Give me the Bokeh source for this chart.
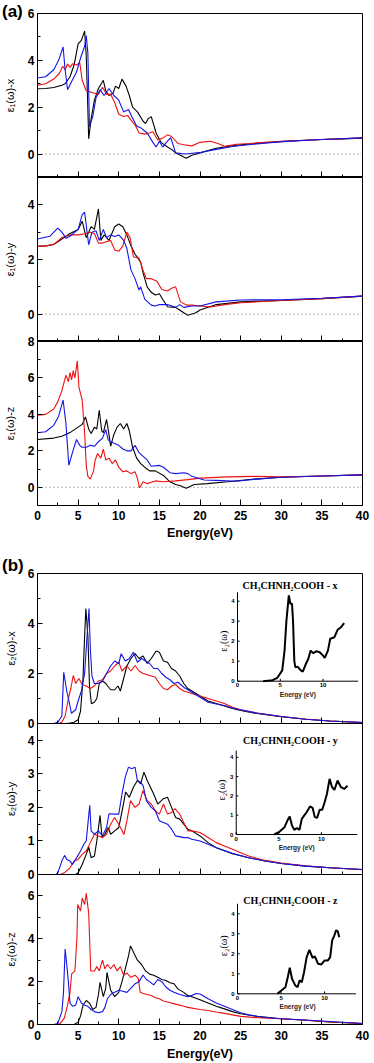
import math
from bokeh.plotting import figure
from bokeh.layouts import column
from bokeh.models import Range1d, FixedTicker, Span, Div, LinearAxis
from bokeh.embed import file_html
from bokeh.resources import INLINE
from bokeh.core.properties import value

# ---------------- data: (energy in eV, value) ----------------
# panel (a): epsilon_1
A_X_BLACK = [(0, 2.79), (1, 2.8), (2, 2.84), (3, 2.94), (3.4, 3.0), (4.0, 3.3), (4.5, 3.8), (5.0, 4.7),
             (5.4, 4.85), (5.8, 5.25), (6.0, 4.2), (6.15, 2.5), (6.3, 0.65), (6.6, 1.5), (7.0, 2.3), (7.5, 2.8),
             (8.1, 3.15), (8.4, 2.7), (8.8, 2.5), (9.3, 2.6), (9.6, 2.9), (10.0, 2.8), (10.4, 3.2), (10.9, 2.9),
             (11.3, 2.5), (11.7, 2.0), (12.3, 1.8), (13.0, 1.4), (13.3, 1.3), (13.6, 1.5), (14.0, 1.6), (14.6, 0.9),
             (15.2, 0.5), (16.0, 0.3), (16.5, 0.2), (17.0, 0.05), (17.6, -0.05), (18.3, -0.18), (19.0, -0.05),
             (20.0, 0.05), (21.0, 0.15), (22.0, 0.25), (23.5, 0.33), (25.0, 0.4), (27.5, 0.47), (30.0, 0.53),
             (32.5, 0.58), (35.0, 0.62), (37.5, 0.65), (40.0, 0.68)]
A_X_RED = [(0, 2.94), (1, 3.0), (2, 3.2), (2.7, 3.45), (3.1, 3.75), (3.4, 3.6), (3.7, 3.85), (4.0, 3.7),
           (4.3, 3.85), (4.8, 3.8), (5.2, 3.9), (5.5, 3.15), (6.0, 2.7), (6.5, 2.65), (7.0, 2.6), (7.5, 2.55),
           (8.0, 2.85), (8.5, 2.55), (9.0, 2.55), (9.5, 2.2), (10.0, 1.7), (10.6, 1.6), (11.1, 1.65), (11.5, 1.45),
           (12.0, 1.25), (12.5, 0.9), (13.2, 0.85), (13.8, 0.9), (14.2, 0.95), (14.8, 0.6), (15.5, 0.7),
           (16.0, 0.82), (16.5, 0.75), (17.3, 0.45), (18.0, 0.4), (19.0, 0.35), (20.0, 0.5), (21.3, 0.55),
           (22.2, 0.45), (23.0, 0.33), (24.5, 0.42), (26.0, 0.45), (28.0, 0.5), (30.0, 0.55), (35.0, 0.62),
           (40.0, 0.69)]
A_X_BLUE = [(0, 3.25), (1, 3.3), (2, 3.6), (2.6, 4.0), (3.15, 4.57), (3.4, 3.6), (3.7, 2.75), (4.2, 3.1),
            (4.8, 3.5), (5.3, 4.1), (5.8, 4.6), (6.0, 5.06), (6.2, 4.3), (6.4, 1.16), (6.8, 1.6), (7.2, 2.4),
            (7.7, 2.75), (8.2, 2.5), (8.8, 2.8), (9.4, 2.5), (10.0, 2.3), (10.6, 1.8), (11.2, 1.9), (11.6, 1.6),
            (12.2, 1.2), (12.8, 1.1), (13.5, 0.9), (14.2, 0.5), (14.6, 0.3), (15.0, 0.55), (15.4, 0.3),
            (16.0, 0.55), (16.4, 0.7), (17.0, 0.05), (18.2, 0.0), (19.9, 0.06), (22.0, 0.2), (24.0, 0.32),
            (26.0, 0.4), (30.0, 0.53), (35.0, 0.62), (40.0, 0.69)]

A_Y_BLACK = [(0, 2.48), (1, 2.5), (2, 2.55), (3, 2.75), (4, 2.95), (5.0, 3.1), (5.5, 3.4), (6.0, 2.8),
             (6.6, 3.2), (7.0, 3.1), (7.5, 3.85), (7.8, 2.7), (8.2, 2.9), (8.8, 2.7), (9.5, 3.2), (10.0, 3.3),
             (10.5, 3.2), (11.0, 2.9), (11.5, 2.5), (12.0, 2.2), (12.7, 1.9), (13.0, 1.5), (13.5, 1.0),
             (14.0, 0.8), (14.5, 0.7), (15.0, 0.75), (15.5, 0.5), (16.0, 0.27), (17.0, 0.25), (17.5, 0.15),
             (18.0, 0.05), (18.5, -0.04), (19.5, 0.05), (20.0, 0.15), (21.0, 0.25), (22.0, 0.35), (25.0, 0.45),
             (30.0, 0.5), (35.0, 0.57), (40.0, 0.66)]
A_Y_RED = [(0, 2.48), (1, 2.5), (2, 2.55), (3, 2.8), (4, 2.9), (5, 2.9), (6, 2.95), (6.5, 3.0), (7.0, 2.95),
           (7.5, 2.6), (8.0, 2.6), (9.0, 2.7), (9.5, 2.35), (10.0, 2.3), (10.5, 2.5), (11.0, 3.0), (11.4, 2.8),
           (11.8, 2.1), (12.5, 2.05), (13.0, 1.6), (13.4, 1.3), (14.0, 1.3), (14.7, 1.2), (15.3, 0.9),
           (16.0, 0.85), (16.5, 0.95), (17.0, 1.0), (17.6, 0.45), (18.4, 0.33), (19.0, 0.33), (21.3, 0.26),
           (23.0, 0.35), (25.0, 0.42), (30.0, 0.5), (35.0, 0.57), (40.0, 0.66)]
A_Y_BLUE = [(0, 2.75), (1.5, 2.85), (2.5, 3.15), (3.0, 3.0), (3.5, 2.78), (4.0, 2.85), (5.0, 3.1), (5.5, 3.64),
            (5.8, 3.73), (6.3, 2.54), (6.7, 3.0), (7.2, 3.05), (7.6, 2.7), (8.1, 3.1), (8.5, 2.8), (9.0, 2.9),
            (9.5, 2.84), (10.0, 2.9), (10.6, 2.7), (11.0, 2.4), (11.5, 1.62), (12.0, 1.3), (12.5, 0.88),
            (12.7, 1.0), (13.2, 0.55), (14.0, 0.33), (14.5, 0.3), (15.0, 0.35), (16.0, 0.35), (17.0, 0.25),
            (17.5, 0.35), (18.0, 0.25), (19.0, 0.3), (20.0, 0.3), (22.0, 0.45), (25.0, 0.52), (30.0, 0.53),
            (35.0, 0.58), (40.0, 0.66)]

A_Z_BLACK = [(0, 2.62), (2, 2.7), (3, 2.8), (4, 3.0), (5, 3.3), (5.5, 3.45), (5.9, 3.86), (6.3, 3.2),
             (6.6, 2.95), (7.0, 3.3), (7.3, 3.2), (7.6, 4.23), (7.9, 3.1), (8.1, 3.0), (8.5, 3.72), (8.8, 2.9),
             (9.0, 2.25), (9.4, 2.9), (9.8, 3.3), (10.2, 3.5), (10.6, 3.2), (11.0, 3.5), (11.3, 3.1), (11.7, 2.2),
             (12.2, 1.6), (12.7, 1.3), (13.3, 1.06), (13.8, 0.9), (14.5, 0.9), (15.5, 0.65), (16.3, 0.3),
             (17.0, 0.15), (17.5, 0.1), (18.3, -0.05), (19.3, 0.15), (20.9, 0.2), (23.4, 0.3), (26.7, 0.45),
             (30.0, 0.55), (35.0, 0.62), (40.0, 0.68)]
A_Z_RED = [(0, 3.96), (1, 4.0), (2, 4.3), (2.5, 4.7), (3.0, 5.3), (3.5, 6.15), (3.8, 5.8), (4.0, 6.3), (4.2, 5.9),
           (4.4, 6.4), (4.6, 6.0), (4.9, 6.94), (5.1, 5.5), (5.5, 4.78), (5.8, 3.0), (6.0, 1.2), (6.2, 0.6),
           (6.5, 0.45), (6.9, 0.9), (7.1, 1.5), (7.4, 1.85), (7.8, 1.6), (8.1, 2.1), (8.4, 1.5), (8.8, 1.6),
           (9.2, 1.3), (9.6, 1.5), (10.0, 1.1), (10.5, 0.85), (11.0, 0.9), (11.5, 0.75), (12.0, 0.85), (12.3, 0.5),
           (12.55, -0.04), (13.0, 0.3), (13.5, 0.2), (14.5, 0.35), (15.5, 0.3), (17.0, 0.35), (18.5, 0.42),
           (20.0, 0.5), (23.4, 0.57), (26.7, 0.6), (30.3, 0.57), (35.0, 0.62), (40.0, 0.68)]
A_Z_BLUE = [(0, 2.99), (1, 3.05), (2, 3.4), (2.6, 3.9), (3.15, 4.78), (3.5, 3.5), (3.85, 1.21), (4.3, 1.9),
            (4.8, 2.62), (5.2, 2.3), (5.5, 2.2), (6.0, 2.2), (6.5, 2.3), (7.0, 2.25), (7.5, 2.5), (8.0, 2.7),
            (8.4, 3.17), (8.7, 2.6), (9.0, 2.5), (9.5, 2.4), (10.0, 2.3), (10.5, 2.1), (11.0, 2.0), (11.5, 2.0),
            (12.0, 2.3), (12.5, 1.9), (13.0, 1.7), (13.5, 1.5), (14.0, 1.15), (15.0, 1.2), (15.5, 1.1),
            (16.3, 0.8), (17.0, 0.75), (18.0, 0.8), (18.5, 0.75), (19.0, 0.6), (20.5, 0.4), (22.0, 0.38),
            (24.5, 0.33), (27.0, 0.45), (30.0, 0.55), (35.0, 0.62), (40.0, 0.68)]

# panel (b): epsilon_2
B_X_BLACK = [(0, 0), (3.5, 0), (4.0, 0.02), (4.5, 0.05), (5.0, 0.15), (5.3, 0.5), (5.6, 1.8), (5.8, 3.5),
             (5.95, 4.6), (6.2, 3.5), (6.4, 1.5), (6.63, 0.79), (7.0, 0.85), (7.3, 1.0), (7.6, 1.6), (8.0, 1.7),
             (8.4, 1.6), (9.0, 1.35), (9.5, 1.35), (9.9, 1.5), (10.2, 1.3), (10.6, 1.8), (11.0, 2.3), (11.5, 2.6),
             (12.0, 2.8), (12.5, 2.6), (13.0, 2.7), (13.5, 2.4), (14.0, 2.6), (14.6, 2.9), (15.0, 2.85),
             (15.5, 2.5), (16.0, 2.45), (16.5, 2.2), (17.0, 2.1), (17.5, 1.9), (18.0, 1.6), (18.5, 1.4), (19, 1.3),
             (20, 1.1), (21, 0.9), (22, 0.8), (23, 0.7), (24, 0.6), (25, 0.52), (27, 0.4), (30, 0.27),
             (33, 0.17), (36, 0.1), (40, 0.04)]
B_X_RED = [(0, 0), (2.5, 0), (3.0, 0.05), (3.4, 0.3), (3.8, 1.0), (4.1, 1.4), (4.4, 1.92), (4.7, 1.6),
           (5.1, 1.8), (5.5, 1.55), (6.0, 1.5), (6.5, 1.4), (7.0, 1.5), (7.5, 1.7), (8.0, 1.75), (8.5, 2.0),
           (9.0, 2.1), (9.5, 2.3), (10.0, 2.45), (10.4, 2.1), (11.0, 2.3), (11.5, 2.1), (12.0, 2.32), (12.5, 2.1),
           (13.0, 2.0), (13.5, 1.95), (14.0, 1.9), (14.5, 1.85), (15.0, 1.6), (15.5, 1.4), (16.0, 1.35),
           (16.5, 1.5), (17.0, 1.56), (17.5, 1.4), (18.0, 1.3), (18.5, 1.25), (19, 1.2), (20, 1.1), (21, 1.0),
           (22, 0.9), (23, 0.8), (24, 0.65), (25, 0.55), (27, 0.42), (30, 0.28), (33, 0.18), (36, 0.1),
           (40, 0.04)]
B_X_BLUE = [(0, 0), (2.0, 0), (2.5, 0.05), (3.0, 0.3), (3.23, 2.05), (3.6, 1.3), (4.0, 0.7), (4.17, 0.41),
            (4.7, 0.55), (5.0, 0.9), (5.4, 1.3), (5.8, 2.0), (6.1, 3.5), (6.34, 4.6), (6.5, 3.0), (6.7, 1.9),
            (7.0, 1.6), (7.5, 1.6), (8.0, 1.7), (8.5, 2.0), (9.0, 2.3), (9.5, 2.5), (10.0, 2.4), (10.3, 2.79),
            (10.8, 2.5), (11.3, 2.6), (11.8, 2.85), (12.3, 2.45), (12.8, 2.6), (13.3, 2.5), (13.8, 2.4),
            (14.3, 2.2), (14.8, 2.2), (15.3, 2.0), (15.8, 1.85), (16.3, 1.75), (16.8, 1.6), (17.3, 1.65),
            (18.0, 1.45), (18.5, 1.35), (19, 1.25), (20, 1.05), (21, 0.85), (22, 0.78), (23, 0.72), (24, 0.62),
            (25, 0.55), (27, 0.42), (30, 0.28), (33, 0.17), (36, 0.1), (40, 0.04)]

B_Y_BLACK = [(0, 0), (4.7, 0), (5.0, 0.05), (5.5, 0.3), (6.0, 0.6), (6.3, 0.82), (6.6, 0.5), (7.0, 0.55),
             (7.3, 1.0), (7.7, 1.76), (7.95, 1.1), (8.3, 1.2), (8.7, 1.4), (9.0, 1.2), (9.5, 1.3), (10.0, 1.4),
             (10.5, 2.0), (10.85, 2.46), (11.3, 2.3), (11.8, 2.6), (12.3, 2.8), (12.7, 2.7), (13.1, 3.05),
             (13.5, 2.8), (13.9, 2.6), (14.3, 2.4), (14.8, 2.1), (15.5, 2.26), (16.0, 2.3), (16.5, 2.0),
             (17.0, 1.7), (17.5, 1.65), (18.0, 1.5), (18.5, 1.35), (19, 1.3), (20, 1.15), (21, 0.95), (22, 0.8),
             (24, 0.62), (26, 0.5), (28, 0.4), (30, 0.33), (33, 0.25), (36, 0.2), (40, 0.15)]
B_Y_RED = [(0, 0), (2.8, 0), (3.3, 0.05), (4.0, 0.2), (4.5, 0.4), (5.0, 0.45), (5.5, 0.6), (6.0, 0.7),
           (6.5, 0.95), (7.0, 1.2), (7.5, 1.15), (8.0, 1.1), (8.5, 1.2), (9.0, 1.5), (9.5, 1.7), (10.0, 1.5),
           (10.64, 1.19), (11.0, 1.6), (11.45, 2.2), (12.0, 2.0), (12.5, 2.1), (12.97, 2.5), (13.5, 2.2),
           (14.0, 2.1), (14.5, 1.9), (15.0, 1.8), (15.5, 2.1), (16.0, 1.8), (16.5, 1.85), (16.9, 1.96),
           (17.5, 1.8), (18.0, 1.55), (18.5, 1.3), (19, 1.3), (20, 1.25), (21, 1.1), (22, 0.95), (23, 0.85),
           (24, 0.75), (25, 0.65), (26, 0.55), (28, 0.42), (30, 0.34), (33, 0.26), (36, 0.2), (40, 0.14)]
B_Y_BLUE = [(0, 0), (2.3, 0), (2.5, 0.05), (3.0, 0.4), (3.33, 0.57), (3.6, 0.45), (4.0, 0.4), (4.3, 0.3),
            (4.7, 0.45), (5.3, 0.7), (5.7, 0.9), (6.0, 1.0), (6.2, 1.5), (6.43, 2.06), (6.6, 1.3), (7.0, 1.2),
            (7.5, 1.3), (8.0, 1.15), (8.5, 1.4), (8.8, 1.81), (9.5, 1.8), (10.0, 1.8), (10.4, 2.4), (10.8, 2.9),
            (11.2, 3.2), (11.6, 3.15), (12.0, 3.2), (12.3, 2.8), (12.7, 2.75), (13.0, 2.65), (13.4, 2.2),
            (14.0, 2.0), (14.5, 1.9), (15.0, 1.6), (15.5, 1.55), (16.0, 1.5), (16.5, 1.35), (17.0, 1.15),
            (18.0, 1.1), (18.5, 1.1), (19, 1.05), (20, 1.0), (21, 0.9), (22, 0.8), (24, 0.63), (26, 0.5),
            (28, 0.4), (30, 0.33), (33, 0.25), (36, 0.2), (40, 0.15)]

B_Z_BLACK = [(0, 0), (4.5, 0), (5.0, 0.1), (5.3, 0.4), (5.6, 0.9), (6.0, 1.12), (6.4, 1.0), (6.8, 0.7),
             (7.2, 0.8), (7.5, 1.4), (7.7, 1.97), (8.1, 1.3), (8.4, 1.7), (8.55, 2.43), (9.0, 1.6), (9.5, 1.3),
             (10.0, 1.5), (10.4, 2.0), (10.8, 2.6), (11.2, 3.2), (11.45, 3.67), (11.9, 3.3), (12.3, 3.0),
             (12.8, 2.8), (13.3, 2.5), (13.8, 2.35), (14.3, 2.3), (14.8, 2.2), (15.3, 2.1), (15.8, 2.05),
             (16.3, 1.95), (16.8, 1.9), (17.3, 1.65), (18.0, 1.5), (18.5, 1.35), (19, 1.3), (20, 1.15), (21, 1.0),
             (22, 0.85), (23, 0.73), (24, 0.6), (25, 0.5), (27, 0.38), (30, 0.27), (33, 0.2), (36, 0.12),
             (40, 0.05)]
B_Z_RED = [(0, 0), (2.3, 0), (2.8, 0.05), (3.3, 0.3), (3.7, 0.9), (4.0, 1.5), (4.2, 2.36), (4.6, 2.5),
           (4.85, 4.0), (4.95, 5.6), (5.3, 5.3), (5.5, 5.9), (5.8, 5.6), (6.0, 6.12), (6.3, 5.2), (6.55, 2.5),
           (7.0, 2.5), (7.3, 2.7), (7.6, 2.5), (8.0, 3.0), (8.3, 2.6), (8.6, 2.8), (9.0, 2.6), (9.4, 2.8),
           (9.8, 2.5), (10.2, 2.7), (10.6, 2.3), (11.0, 2.4), (11.5, 2.2), (12.0, 2.3), (12.4, 2.15),
           (12.65, 1.5), (13.0, 1.45), (13.5, 1.4), (14.0, 1.35), (14.5, 1.25), (15.0, 1.2), (15.5, 1.1),
           (16.0, 1.05), (17.0, 0.95), (18.0, 0.85), (18.5, 0.8), (20, 0.7), (21, 0.65), (22, 0.58), (23, 0.52),
           (24, 0.45), (25, 0.38), (27, 0.32), (30, 0.27), (33, 0.2), (36, 0.12), (40, 0.05)]
B_Z_BLUE = [(0, 0), (2.0, 0), (2.5, 0.05), (3.0, 0.6), (3.2, 1.5), (3.4, 3.52), (3.6, 2.8), (3.8, 2.0),
            (4.0, 1.0), (4.3, 0.85), (4.7, 0.9), (5.0, 1.3), (5.4, 1.0), (5.8, 0.9), (6.2, 0.85), (6.6, 0.7),
            (7.0, 0.6), (7.5, 0.55), (8.0, 0.6), (8.3, 0.8), (8.6, 1.2), (9.0, 1.4), (9.5, 1.5), (10.0, 1.6),
            (10.5, 1.55), (11.0, 1.5), (11.5, 1.7), (12.0, 1.9), (12.5, 2.0), (13.0, 2.31), (13.4, 2.1),
            (13.8, 2.0), (14.3, 1.85), (14.8, 2.1), (15.3, 2.0), (15.8, 1.75), (16.3, 1.6), (16.8, 1.5),
            (17.5, 1.4), (18.5, 1.3), (19, 1.35), (19.5, 1.45), (20, 1.42), (21, 1.2), (22, 1.0), (23, 0.85),
            (24, 0.7), (25, 0.55), (26, 0.45), (28, 0.33), (30, 0.27), (33, 0.21), (36, 0.14), (40, 0.05)]

# insets: CH3CHNH2COOH (x, y, z)
INSET_X = [(3.0, 0), (4.1, 0.05), (4.66, 0.17), (5.23, 0.54), (5.5, 1.53), (5.72, 3.03), (6.0, 4.29),
           (6.18, 3.87), (6.37, 3.87), (6.49, 3.03), (6.64, 1.03), (6.75, 0.7), (7.02, 0.73), (7.4, 0.54),
           (7.63, 0.48), (8.0, 0.87), (8.28, 1.12), (8.55, 1.53), (8.86, 1.4), (9.23, 1.5), (9.61, 1.45),
           (10.0, 1.28), (10.2, 1.17), (10.57, 1.53), (10.84, 2.12), (11.33, 2.2), (11.7, 2.57), (12.1, 2.7),
           (12.47, 2.9)]
INSET_Y = [(4.45, 0), (5.0, 0.12), (5.67, 0.38), (6.05, 0.76), (6.28, 0.93), (6.55, 0.46), (6.82, 0.24),
           (7.13, 0.34), (7.43, 0.24), (7.7, 0.81), (7.97, 0.98), (8.28, 1.16), (8.66, 1.45), (8.97, 1.38),
           (9.23, 0.9), (9.5, 0.86), (9.8, 1.28), (10.1, 1.28), (10.38, 1.67), (10.65, 2.1), (10.96, 2.88),
           (11.26, 2.45), (11.53, 2.31), (11.9, 2.8), (12.3, 2.45), (12.68, 2.36), (13.07, 2.53)]
INSET_Z = [(4.57, 0), (5.5, 0.33), (5.77, 0.83), (6.0, 1.3), (6.26, 0.75), (6.63, 0.42), (6.9, 0.33),
           (7.12, 0.67), (7.38, 0.58), (7.64, 1.08), (7.94, 1.83), (8.25, 2.2), (8.62, 1.8), (8.88, 1.87),
           (9.25, 1.5), (9.63, 1.47), (10.0, 1.67), (10.38, 1.67), (10.64, 1.83), (10.87, 2.67), (11.12, 2.92),
           (11.31, 3.17), (11.5, 3.13), (11.69, 2.83)]
INSET_TITLES = ["CH₃CHNH₂COOH - x", "CH₃CHNH₂COOH - y", "CH₃CHNH₂COOH - z"]
INSET_XTICKS = [0, 5, 10]
INSET_YTICKS = [0, 1, 2, 3, 4]

X_TICKS = [0, 5, 10, 15, 20, 25, 30, 35, 40]
X_MINOR = [2.5, 7.5, 12.5, 17.5, 22.5, 27.5, 32.5, 37.5]


def unzip(pairs):
    return [e for e, _ in pairs], [v for _, v in pairs]


# ---------------- layout / style ----------------
FONT = "Liberation Sans"
SERIF = "Liberation Serif"
C_BLACK, C_RED, C_BLUE = "#000000", "#ee1111", "#1414e6"
FIG_W = 374

# inset geometry measured in the reference picture (px) relative to panel (b) frames
REF_B_LEFT, REF_B_RIGHT = 35.0, 367.0
REF_B_FRAMES = [(573.0, 723.0), (723.0, 874.0), (874.0, 1024.0)]
INSET_GEOM = [(239.3, 680.7, 8.74, 20.0), (238.0, 834.0, 8.7, 19.3), (239.3, 993.3, 8.9, 20.0)]
INSET_AXLEN = [(14.1, 4.45), (14.2, 4.35), (13.6, 4.5)]
INSET_TITLE_AT = [(6.14, 4.79), (6.36, 4.87), (6.07, 4.67)]
INSET_XLAB_AT = [7.06, 7.1, 6.9]
INSET_YLAB_AT = [(-1.58, 2.0), (-1.69, 2.3), (-1.6, 2.4)]

PANEL_LABEL_STYLE = {"font-family": FONT, "font-weight": "bold", "font-size": "17px",
                     "line-height": "20px", "color": "black", "white-space": "nowrap"}


def style_axis(ax):
    ax.axis_line_color = "black"
    ax.major_tick_line_color = "black"
    ax.minor_tick_line_color = "black"
    ax.major_tick_out = 0
    ax.minor_tick_out = 0
    ax.major_label_text_font = FONT
    ax.major_label_text_font_style = "bold"
    ax.major_label_text_font_size = "12px"
    ax.major_label_text_color = "black"


def make_fig(h, top, bottom, mt, left, right, yr, yt, ym, ylabel, ylab_gap, xstand=None):
    p = figure(width=FIG_W, height=h, x_range=Range1d(0, 40), y_range=Range1d(*yr),
               output_backend="svg", toolbar_location=None,
               min_border_left=left, min_border_right=right,
               min_border_top=top, min_border_bottom=bottom,
               margin=(mt, 0, 0, 0))
    p.border_fill_color = None
    p.background_fill_color = "white"
    p.outline_line_color = "black"
    p.outline_line_width = 1
    p.grid.visible = False
    xa, ya = p.xaxis[0], p.yaxis[0]
    style_axis(xa)
    style_axis(ya)
    ya.ticker = FixedTicker(ticks=yt, minor_ticks=ym)
    ya.major_tick_in = 5
    ya.minor_tick_in = 3
    ya.major_label_standoff = 3
    ya.axis_label = ylabel
    ya.axis_label_text_font = FONT
    ya.axis_label_text_font_style = "normal"
    ya.axis_label_text_font_size = "11px"
    ya.axis_label_text_color = "black"
    ya.axis_label_standoff = ylab_gap
    if xstand is not None:
        xa.ticker = FixedTicker(ticks=X_TICKS, minor_ticks=X_MINOR)
        xa.major_tick_in = 6
        xa.minor_tick_in = 3
        xa.major_label_standoff = xstand[0]
        xa.axis_label = "Energy(eV)"
        xa.axis_label_text_font = FONT
        xa.axis_label_text_font_style = "bold"
        xa.axis_label_text_font_size = "12.5px"
        xa.axis_label_text_color = "black"
        xa.axis_label_standoff = xstand[1]
    else:
        # shared-axis look: ticks without numbers (long ticks every 5 eV, short ones between)
        xa.ticker = FixedTicker(ticks=[], minor_ticks=X_TICKS)
        xa.minor_tick_in = 6
        xa.major_label_standoff = 0
        xb = LinearAxis(ticker=FixedTicker(ticks=[], minor_ticks=X_MINOR))
        style_axis(xb)
        xb.minor_tick_in = 3
        xb.major_label_standoff = 0
        p.add_layout(xb, "below")
    return p


def draw_curves(p, black, red, blue):
    for pairs, col in ((black, C_BLACK), (red, C_RED), (blue, C_BLUE)):
        e, v = unzip(pairs)
        p.line(e, v, line_color=col, line_width=1.1)


def add_inset(p, k, pairs):
    ox, oy, sx, sy = INSET_GEOM[k]
    top, bot = REF_B_FRAMES[k]
    wref = REF_B_RIGHT - REF_B_LEFT
    href = bot - top
    fx0, kx = (ox - REF_B_LEFT) / wref, sx / wref
    fy0, ky = (bot - oy) / href, sy / href
    p.extra_x_ranges = {"ix": Range1d(-fx0 / kx, (1 - fx0) / kx)}
    p.extra_y_ranges = {"iy": Range1d(-fy0 / ky, (1 - fy0) / ky)}
    kw = dict(x_range_name="ix", y_range_name="iy")
    xl, yl = INSET_AXLEN[k]
    p.segment(x0=[0, 0], y0=[0, 0], x1=[xl, 0], y1=[0, yl], line_color="black", line_width=1, **kw)
    p.segment(x0=INSET_XTICKS, y0=[0] * len(INSET_XTICKS), x1=INSET_XTICKS, y1=[0.12] * len(INSET_XTICKS),
              line_color="black", line_width=1, **kw)
    p.segment(x0=[0] * len(INSET_YTICKS), y0=INSET_YTICKS, x1=[0.25] * len(INSET_YTICKS), y1=INSET_YTICKS,
              line_color="black", line_width=1, **kw)
    p.text(x=INSET_XTICKS, y=[0] * len(INSET_XTICKS), text=[str(t) for t in INSET_XTICKS],
           y_offset=2, text_align="center", text_baseline="top", text_font=value(FONT),
           text_font_size=value("6px"), text_font_style="bold", text_color="black", **kw)
    p.text(x=[0] * len(INSET_YTICKS), y=INSET_YTICKS, text=[str(t) for t in INSET_YTICKS],
           x_offset=-3, text_align="right", text_baseline="middle", text_font=value(FONT),
           text_font_size=value("6px"), text_font_style="bold", text_color="black", **kw)
    p.text(x=[INSET_XLAB_AT[k]], y=[0], text=["Energy (eV)"], y_offset=13, text_align="center",
           text_baseline="middle", text_font=value(FONT), text_font_size=value("6.5px"),
           text_font_style="bold", text_color="#222222", **kw)
    yx, yy = INSET_YLAB_AT[k]
    p.text(x=[yx], y=[yy], text=["ε₂(ω)"], angle=math.pi / 2, text_align="center", text_baseline="middle",
           text_font=value(SERIF), text_font_size=value("10px"), text_color="black", **kw)
    tx, ty = INSET_TITLE_AT[k]
    p.text(x=[tx], y=[ty], text=[INSET_TITLES[k]], text_align="center", text_baseline="middle",
           text_font=value(SERIF), text_font_size=value("10px"), text_font_style="bold",
           text_color="black", **kw)
    e, v = unzip(pairs)
    p.line(e, v, line_color="black", line_width=2, **kw)


# figures placed so that the frames sit where the reference has them (page coordinates)
label_a = Div(text="(a)", width=30, height=20, margin=(2, 0, 0, 2), styles=PANEL_LABEL_STYLE)
a1 = make_fig(177, 13, 0, -22, 36, 12, (-1, 6), [0, 2, 4, 6], [-1, 1, 3, 5], "ε₁(ω)-x", 9)
a2 = make_fig(164, 0, 0, 0, 36, 12, (-1, 5), [0, 2, 4], [-1, 1, 3, 5], "ε₁(ω)-y", 9)
a3 = make_fig(214, 8, 42, -8, 36, 12, (-1, 8), [0, 2, 4, 6, 8], [-1, 1, 3, 5, 7], "ε₁(ω)-z", 9,
              xstand=(5, 3))
label_b = Div(text="(b)", width=30, height=20, margin=(9, 0, 0, 2), styles=PANEL_LABEL_STYLE)
b1 = make_fig(184, 26, 8, -29, 35, 7, (0, 6), [0, 2, 4, 6], [1, 3, 5], "ε₂(ω)-x", 8)
b2 = make_fig(159, 0, 8, -8, 35, 7, (0, 4.5), [0, 1, 2, 3, 4], [0.5, 1.5, 2.5, 3.5], "ε₂(ω)-y", 8)
b3 = make_fig(189, 0, 39, -8, 35, 7, (0, 7), [0, 2, 4, 6], [1, 3, 5, 7], "ε₂(ω)-z", 8, xstand=(6, 4))

for p in (a1, a2, a3):
    p.add_layout(Span(location=0, dimension="width", line_color="#707070", line_dash="1 3", line_width=1))

draw_curves(a1, A_X_BLACK, A_X_RED, A_X_BLUE)
draw_curves(a2, A_Y_BLACK, A_Y_RED, A_Y_BLUE)
draw_curves(a3, A_Z_BLACK, A_Z_RED, A_Z_BLUE)
draw_curves(b1, B_X_BLACK, B_X_RED, B_X_BLUE)
draw_curves(b2, B_Y_BLACK, B_Y_RED, B_Y_BLUE)
draw_curves(b3, B_Z_BLACK, B_Z_RED, B_Z_BLUE)

add_inset(b1, 0, INSET_X)
add_inset(b2, 1, INSET_Y)
add_inset(b3, 2, INSET_Z)

layout = column(label_a, a1, a2, a3, label_b, b1, b2, b3, spacing=0)
open("out.html", "w").write(file_html(layout, INLINE))
